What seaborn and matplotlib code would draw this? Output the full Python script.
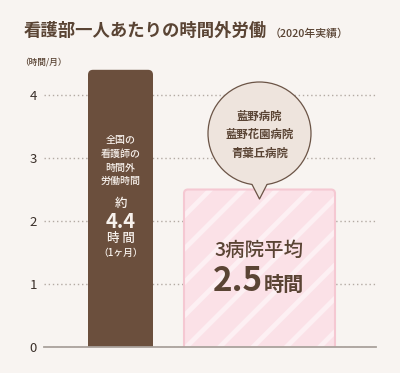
import matplotlib
matplotlib.use('Agg')
import matplotlib.pyplot as plt
import seaborn as sns
import pandas as pd
from matplotlib.patches import FancyBboxPatch, Circle, Polygon
from matplotlib.lines import Line2D

# ---- data ----
categories = ['全国の看護師', '3病院平均']
values = [4.4, 2.5]
yticks = [0, 1, 2, 3, 4]
title = '看護部一人あたりの時間外労働'
subtitle = '（2020年実績）'
unit_label = '（時間/月）'
bar1_lines = ['全国の', '看護師の', '時間外', '労働時間']
bar1_value = '4.4'
bubble_lines = ['藍野病院', '藍野花園病院', '青葉丘病院']
bar2_label = '3病院平均'
bar2_value = '2.5'

# ---- style ----
sns.set_theme(style='white')
plt.rcParams['font.family'] = ['Noto Sans CJK JP', 'DejaVu Sans']
plt.rcParams['hatch.linewidth'] = 3.5

BG = '#f8f4f1'
DARK = '#5a4434'
BROWN = '#6b4f3d'
PINK = '#fbe1e7'
PINK_STRIPE = '#fdf0f3'
PINK_EDGE = '#f5c8d2'

fig = plt.figure(figsize=(4.0, 3.73), dpi=100, facecolor=BG)
# axes: x from 44px to 376px, y=0 at 347px, 63px per unit
PX_PER_UNIT = 63.0
ymax = 4.6
top_px = 347 - ymax * PX_PER_UNIT
ax = fig.add_axes([44 / 400, 26 / 373, 332 / 400, (347 - top_px) / 373])
ax.set_facecolor('none')

df = pd.DataFrame({'cat': categories, 'val': values})
sns.barplot(data=df, x='cat', y='val', hue='cat', palette=[BROWN, PINK],
            saturation=1, legend=False, ax=ax)

ax.set_xlim(0, 332)
ax.set_ylim(0, ymax)
geoms = [(44, 65), (140, 151)]
patches = list(ax.patches)
for p, (x0, w) in zip(patches, geoms):
    h = p.get_height()
    fc = p.get_facecolor()
    p.remove()
    if fc[0] < 0.6:  # brown bar
        fb = FancyBboxPatch((x0, -0.3), w, h + 0.3,
                            boxstyle='round,pad=0,rounding_size=5',
                            mutation_aspect=1 / PX_PER_UNIT,
                            facecolor=BROWN, edgecolor='none', lw=0, zorder=2)
        ax.add_patch(fb)
    else:
        fb = FancyBboxPatch((x0, -0.3), w, h + 0.3,
                            boxstyle='round,pad=0,rounding_size=4',
                            mutation_aspect=1 / PX_PER_UNIT,
                            facecolor=PINK, edgecolor=PINK_STRIPE, lw=0,
                            hatch='/', zorder=2)
        ax.add_patch(fb)
        fe = FancyBboxPatch((x0, -0.3), w, h + 0.3,
                            boxstyle='round,pad=0,rounding_size=4',
                            mutation_aspect=1 / PX_PER_UNIT,
                            facecolor='none', edgecolor=PINK_EDGE, lw=1.5,
                            zorder=3)
        ax.add_patch(fe)

ax.set_yticks(yticks)
ax.set_yticklabels([str(t) for t in yticks], fontsize=9.5, color='#3b302a')
ax.set_xticks([])
ax.set_xlabel('')
ax.set_ylabel('')
ax.tick_params(axis='y', length=0, pad=5)
ax.yaxis.grid(True, linestyle=(0, (1, 2)), color='#b3aaa3', lw=1)
ax.xaxis.grid(False)
ax.set_axisbelow(True)
for s in ['left', 'right', 'top']:
    ax.spines[s].set_visible(False)
ax.spines['bottom'].set_color('#aaa29c')
ax.spines['bottom'].set_linewidth(1.3)
ax.spines['bottom'].set_zorder(4)

# ---- overlay in pixel coordinates ----
ov = fig.add_axes([0, 0, 1, 1], zorder=5)
ov.set_xlim(0, 400)
ov.set_ylim(373, 0)
ov.axis('off')
ov.patch.set_alpha(0)

ov.text(24, 31, title, ha='left', va='center', fontsize=12.5,
        fontweight='bold', color=DARK)
ov.text(270, 33.5, subtitle, ha='left', va='center', fontsize=7.8,
        fontweight='medium', color=DARK)
ov.text(20, 62, unit_label, ha='left', va='center', fontsize=6.2,
        fontweight='medium', color=DARK)

# brown bar texts
cx1 = 120.5
WHITE = '#f7f1ec'
for t, y in zip(bar1_lines, [140, 154, 167.5, 181]):
    ov.text(cx1, y, t, ha='center', va='center', fontsize=7.2,
            fontweight='medium', color=WHITE)
ov.text(cx1, 203, '約', ha='center', va='center', fontsize=9,
        fontweight='medium', color=WHITE)
ov.text(cx1, 221, bar1_value, ha='center', va='center', fontsize=14.5,
        fontweight='bold', color=WHITE)
ov.text(cx1, 238, '時 間', ha='center', va='center', fontsize=9,
        fontweight='medium', color=WHITE)
ov.text(cx1, 253, '（1ヶ月）', ha='center', va='center', fontsize=7,
        fontweight='medium', color=WHITE)

# speech bubble
bx, by, r = 259.5, 133.5, 51.5
ov.add_patch(Circle((bx, by), r, facecolor='#eee4dd', edgecolor='#6b5446',
                    lw=0.9, zorder=6))
yb = by + (r ** 2 - 7.5 ** 2) ** 0.5
ov.add_patch(Polygon([(252, yb), (259.5, 199), (267, yb), (267, yb - 6),
                      (252, yb - 6)], closed=True, facecolor='#eee4dd',
                     edgecolor='none', zorder=7))
ov.add_line(Line2D([252, 259.5, 267], [yb, 199, yb], color='#6b5446',
                   lw=0.9, zorder=8))
for t, y in zip(bubble_lines, [116, 134.5, 153]):
    ov.text(bx, y, t, ha='center', va='center', fontsize=8.2,
            fontweight='bold', color=DARK, zorder=9)

# pink bar texts
ov.text(259.5, 250, bar2_label, ha='center', va='center', fontsize=14,
        fontweight='medium', color=DARK)
ov.text(263, 291, bar2_value, ha='right', va='baseline', fontsize=24,
        fontweight='bold', color=DARK)
ov.text(264, 291, '時間', ha='left', va='baseline', fontsize=14.5,
        fontweight='bold', color=DARK)

fig.savefig('out.png', dpi=100, facecolor=BG)
